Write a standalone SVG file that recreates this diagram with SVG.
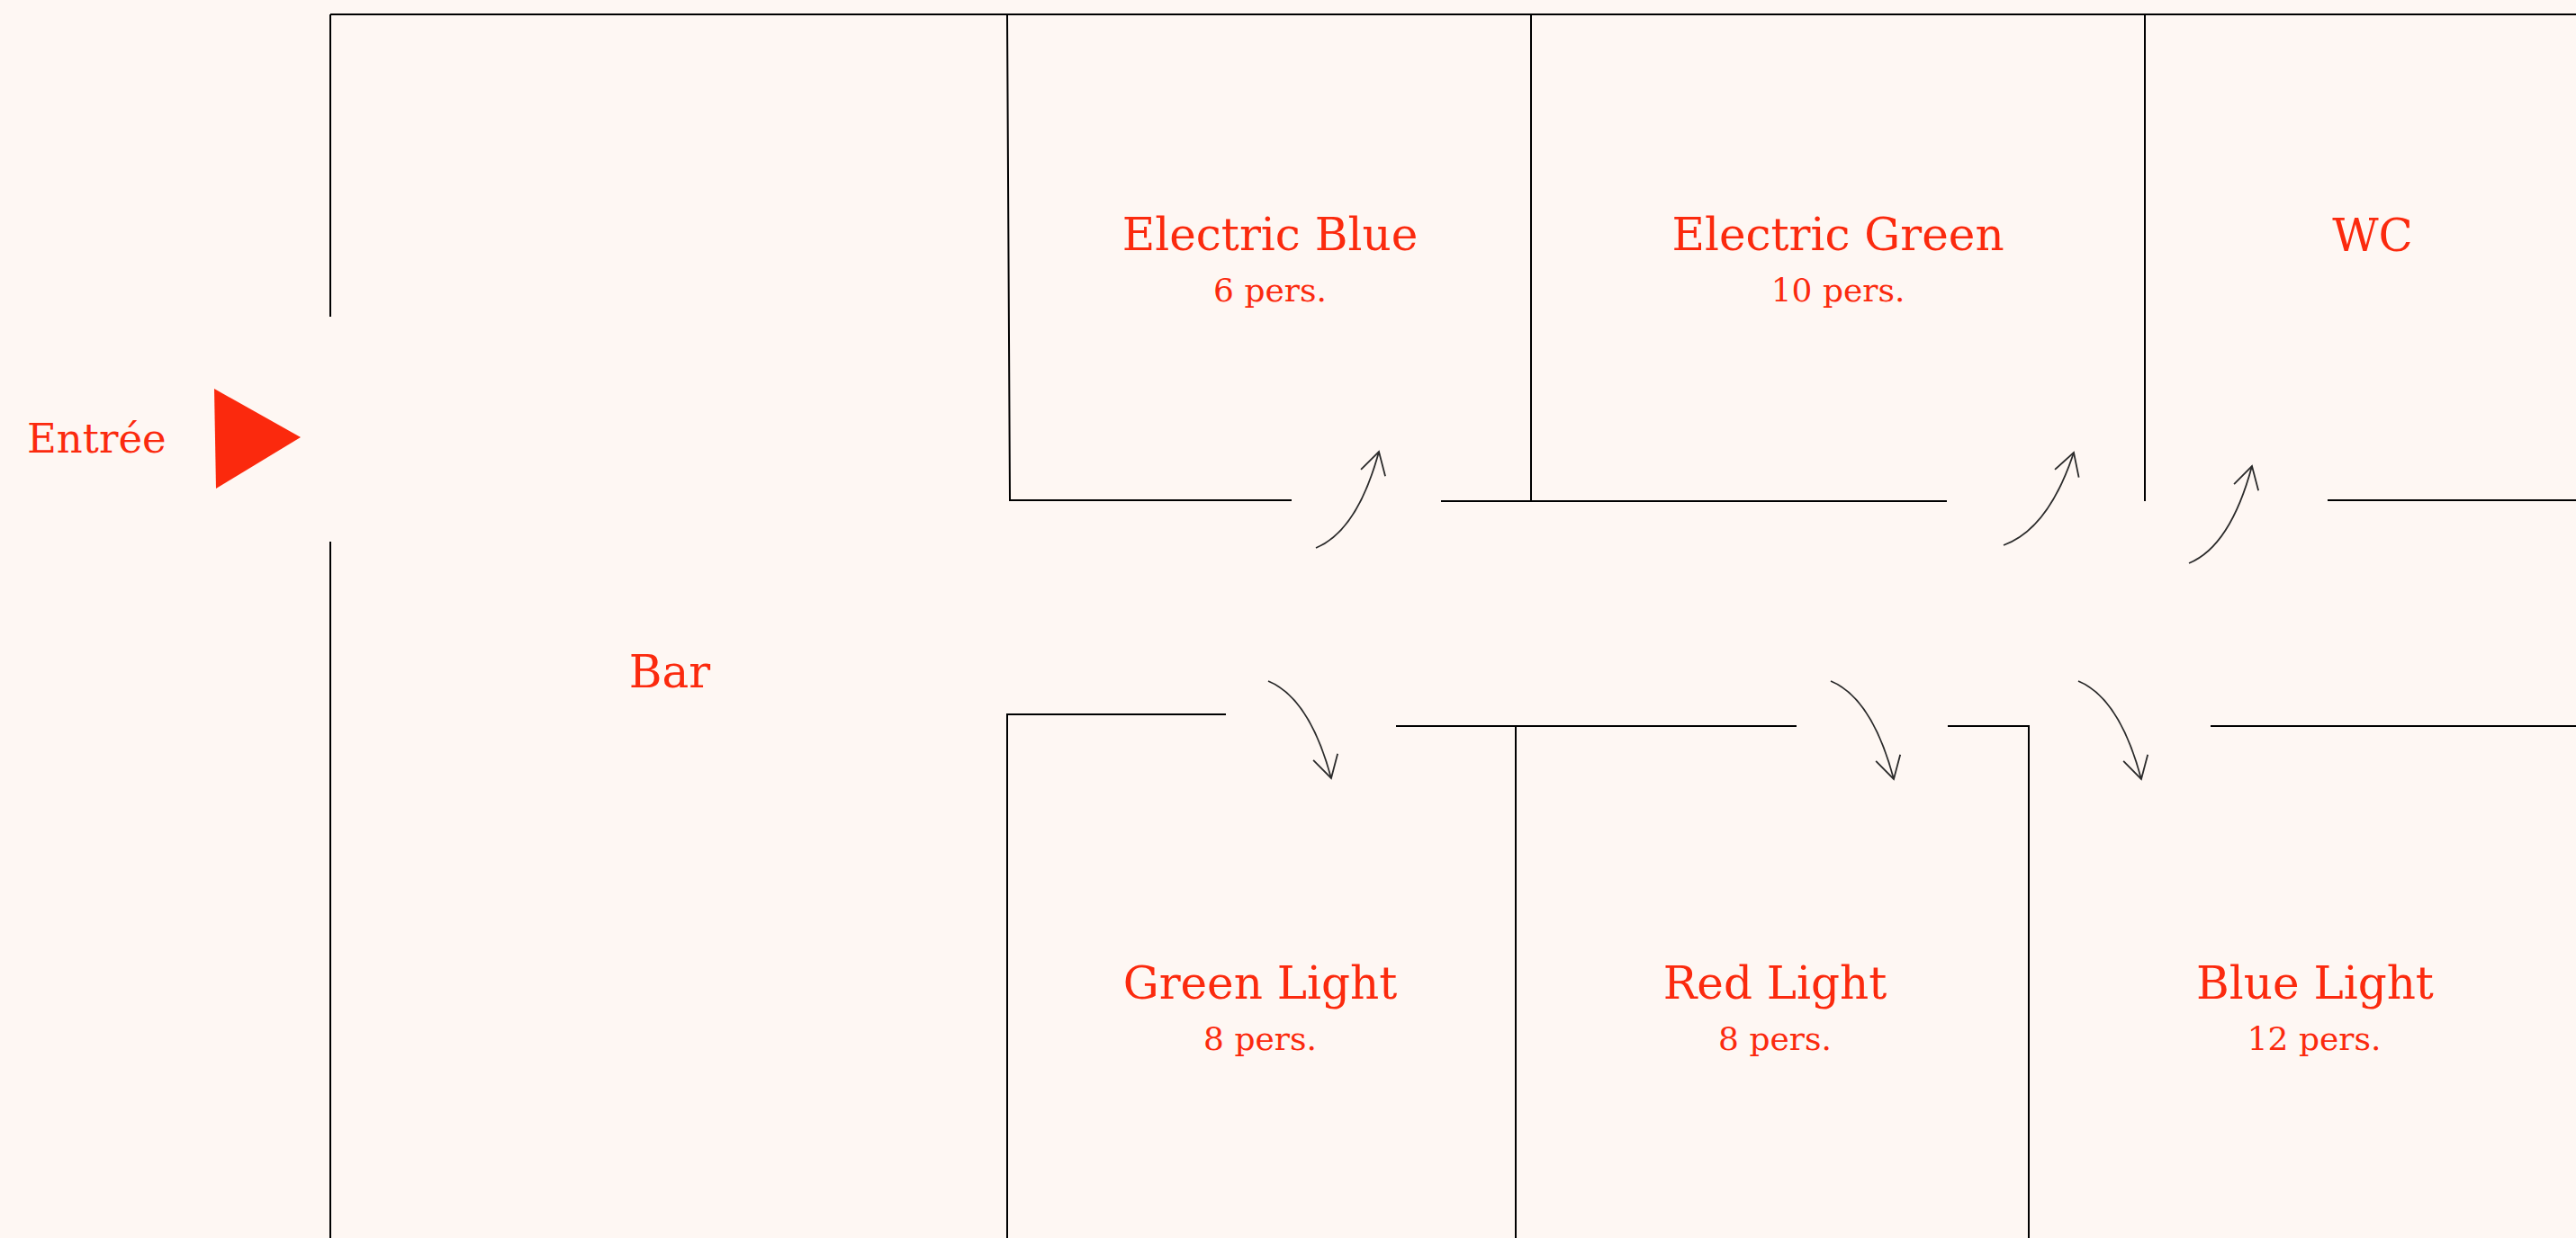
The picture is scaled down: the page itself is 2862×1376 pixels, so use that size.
<svg xmlns="http://www.w3.org/2000/svg" width="2862" height="1376" viewBox="0 0 2862 1376">
  <style>
    .wall { fill: none; stroke: #000000; stroke-width: 2; stroke-linecap: butt; }
    .door { fill: none; stroke: #2b2b2b; stroke-width: 1.8; }
    .title { font-family: "DejaVu Serif", "Liberation Serif", serif; font-size: 50px; fill: #FB2A0E; text-anchor: middle; }
    .sub { font-family: "DejaVu Serif", "Liberation Serif", serif; font-size: 36px; fill: #FB2A0E; text-anchor: middle; }
  </style>
  <defs>
    <marker id="openArrow" markerUnits="userSpaceOnUse" markerWidth="60" markerHeight="60" viewBox="-30 -30 60 60" refX="0" refY="0" orient="auto" overflow="visible">
      <path d="M -24.5 -14 L 0 0 L -24.5 14" fill="none" stroke="#2b2b2b" stroke-width="1.8"/>
    </marker>
  </defs>
  <rect x="0" y="0" width="2862" height="1376" fill="#FEF7F3"/>

  <g id="walls">
    <path class="wall" d="M 367 16 L 2862 16"/>
    <path class="wall" d="M 367 16 L 367 352"/>
    <path class="wall" d="M 367 602 L 367 1376"/>
    <path class="wall" d="M 1119 16 L 1122 556 L 1435 556"/>
    <path class="wall" d="M 1601 557 L 2163 557"/>
    <path class="wall" d="M 1701 16 L 1701 557"/>
    <path class="wall" d="M 2383 16 L 2383 557"/>
    <path class="wall" d="M 2586 556 L 2862 556"/>
    <path class="wall" d="M 1362 794 L 1119 794 L 1119 1376"/>
    <path class="wall" d="M 1551 807 L 1996 807"/>
    <path class="wall" d="M 1684 807 L 1684 1376"/>
    <path class="wall" d="M 2164 807 L 2254 807 L 2254 1376"/>
    <path class="wall" d="M 2456 807 L 2862 807"/>
  </g>

  <g id="connectors">
    <path class="door" d="M 1462 609 Q 1508 590 1532 502" marker-end="url(#openArrow)"/>
    <path class="door" d="M 2226 606 Q 2276 588 2304 503" marker-end="url(#openArrow)"/>
    <path class="door" d="M 2432 626 Q 2478 607 2502 518" marker-end="url(#openArrow)"/>
    <path class="door" d="M 1409 757 Q 1455 776 1479 865" marker-end="url(#openArrow)"/>
    <path class="door" d="M 2034 757 Q 2080 776 2104 866" marker-end="url(#openArrow)"/>
    <path class="door" d="M 2309 757 Q 2355 776 2379 866" marker-end="url(#openArrow)"/>
  </g>

  <g id="entree">
    <text x="30" y="503" font-family="'DejaVu Serif', 'Liberation Serif', serif" font-size="45" fill="#FB2A0E">Entrée</text>
    <polygon points="238,432 334,486 240,543" fill="#FB290D"/>
  </g>

  <g id="bar">
    <text class="title" x="744" y="764">Bar</text>
  </g>

  <g id="electric-blue">
    <text class="title" x="1411" y="278">Electric Blue</text>
    <text class="sub" x="1411" y="335">6 pers.</text>
  </g>

  <g id="electric-green">
    <text class="title" x="2042" y="278">Electric Green</text>
    <text class="sub" x="2042" y="335">10 pers.</text>
  </g>

  <g id="wc">
    <text class="title" x="2636" y="279">WC</text>
  </g>

  <g id="green-light">
    <text class="title" x="1400" y="1110">Green Light</text>
    <text class="sub" x="1400" y="1167">8 pers.</text>
  </g>

  <g id="red-light">
    <text class="title" x="1972" y="1110">Red Light</text>
    <text class="sub" x="1972" y="1167">8 pers.</text>
  </g>

  <g id="blue-light">
    <text class="title" x="2572" y="1110">Blue Light</text>
    <text class="sub" x="2571" y="1167">12 pers.</text>
  </g>
</svg>
